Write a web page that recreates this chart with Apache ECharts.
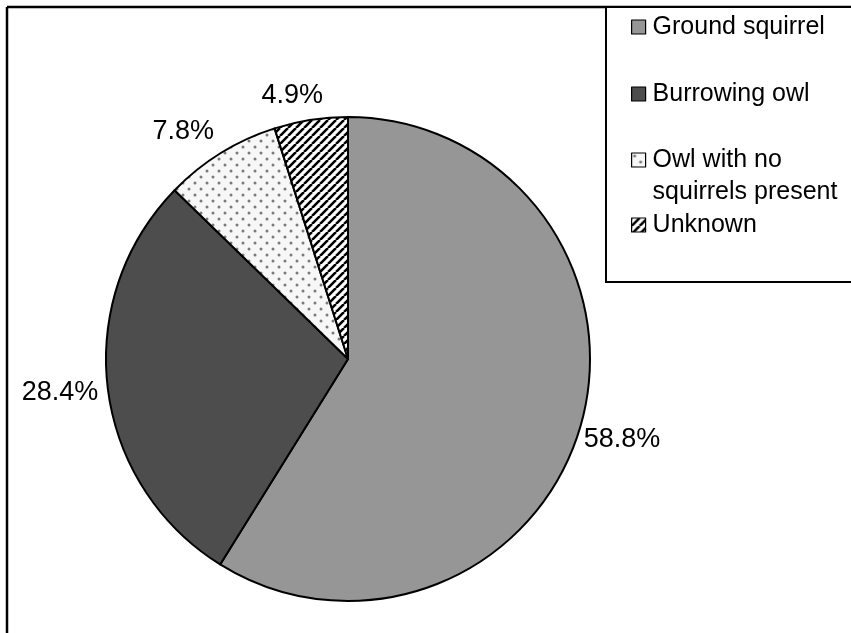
<!DOCTYPE html>
<html>
<head>
<meta charset="utf-8">
<script src="https://cdn.jsdelivr.net/npm/echarts@6/dist/echarts.min.js"></script>
<style>
  html, body { margin: 0; padding: 0; background: #fff; }
  #chart { width: 851px; height: 633px; }
</style>
</head>
<body>
<div id="chart"></div>
<script>
// Nest-site occupancy shares
const categories = ['Ground squirrel', 'Burrowing owl', 'Owl with no squirrels present', 'Unknown'];
const shares = [58.8, 28.4, 7.8, 4.9];

const FONT = '"Liberation Sans", Arial, sans-serif';

// Fill patterns: light stippled dots and black/white diagonal hatching
function dotPattern() {
  const c = document.createElement('canvas');
  c.width = 12; c.height = 12;
  const g = c.getContext('2d');
  g.fillStyle = '#f7f7f7';
  g.fillRect(0, 0, 12, 12);
  g.fillStyle = '#7a7a7a';
  [[3, 3], [9, 9]].forEach(function (p) {
    g.beginPath();
    g.arc(p[0], p[1], 1.5, 0, Math.PI * 2);
    g.fill();
  });
  return c;
}
function hatchPattern() {
  const s = 8;
  const c = document.createElement('canvas');
  c.width = s; c.height = s;
  const g = c.getContext('2d');
  g.fillStyle = '#ffffff';
  g.fillRect(0, 0, s, s);
  g.strokeStyle = '#000000';
  g.lineWidth = 2.6;
  g.beginPath();
  for (let k = -1; k <= 1; k++) {
    g.moveTo(k * s, s);
    g.lineTo(k * s + s, 0);
  }
  g.stroke();
  return c;
}

const fills = [
  '#969696',
  '#4d4d4d',
  { image: dotPattern(), repeat: 'repeat' },
  { image: hatchPattern(), repeat: 'repeat' }
];

// small nudges so the percentage labels sit where the layout wants them
const labelNudge = [[0, 2], [-5, -1], [-15, 15], [-12, 18]];

const pieData = categories.map(function (name, i) {
  return { name: name, value: shares[i], itemStyle: { color: fills[i] } };
});
const labelData = categories.map(function (name, i) {
  return { name: name, value: shares[i], label: { offset: labelNudge[i] } };
});

const center = [348, 359];
const legendTops = [13, 80, 112, 211];

const legendBase = {
  orient: 'vertical',
  left: 631,
  padding: 0,
  itemWidth: 14,
  itemHeight: 14,
  icon: 'rect',
  selectedMode: false,
  itemStyle: { borderColor: '#000', borderWidth: 1.2 },
  textStyle: { fontFamily: FONT, fontSize: 25, color: '#000', lineHeight: 28, padding: [0, 0, 0, 2] }
};

const legends = categories.map(function (name, i) {
  const l = Object.assign({}, legendBase, { top: legendTops[i], data: [name] });
  if (i === 2) {
    // two-line entry: the icon lines up with the first line of text
    l.formatter = function () { return '\nOwl with no\nsquirrels present'; };
    l.textStyle = Object.assign({}, legendBase.textStyle, { lineHeight: 32 });
  }
  return l;
});

const chart = echarts.init(document.getElementById('chart'), null, { renderer: 'canvas' });
chart.setOption({
  backgroundColor: '#ffffff',
  animation: false,
  graphic: [
    { type: 'line', z: 0, shape: { x1: 7, y1: 7, x2: 860, y2: 7 }, style: { stroke: '#000', lineWidth: 2.5 } },
    { type: 'line', z: 0, shape: { x1: 7, y1: 7, x2: 7, y2: 640 }, style: { stroke: '#000', lineWidth: 2.5 } },
    { type: 'rect', z: 0, shape: { x: 606, y: 7, width: 260, height: 275 }, style: { fill: '#fff', stroke: '#000', lineWidth: 2 } }
  ],
  legend: legends,
  series: [
    {
      type: 'pie',
      center: center,
      radius: 242,
      startAngle: 90,
      clockwise: true,
      silent: true,
      label: { show: false },
      labelLine: { show: false },
      itemStyle: { borderColor: '#000', borderWidth: 2 },
      data: pieData
    },
    {
      // transparent ring that carries the percentage labels outside the pie
      type: 'pie',
      center: center,
      radius: [262, 302],
      startAngle: 90,
      clockwise: true,
      silent: true,
      itemStyle: { color: 'rgba(0,0,0,0)', borderWidth: 0 },
      label: {
        show: true,
        position: 'inside',
        fontFamily: FONT,
        fontSize: 27,
        color: '#000',
        formatter: function (p) { return p.value.toFixed(1) + '%'; }
      },
      labelLine: { show: false },
      data: labelData
    }
  ]
});
</script>
</body>
</html>
